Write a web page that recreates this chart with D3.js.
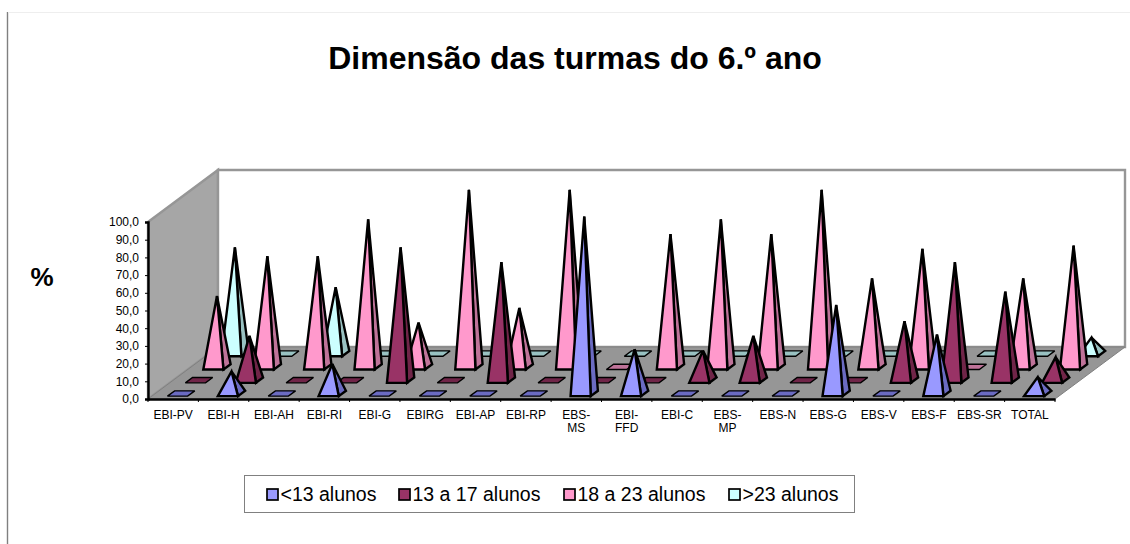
<!DOCTYPE html>
<html><head><meta charset="utf-8">
<script src="https://cdn.jsdelivr.net/npm/d3@7"></script>
<style>html,body{margin:0;padding:0;background:#fff}svg{display:block}text{font-family:"Liberation Sans",Arial,sans-serif}</style>
</head><body><div id="chart"></div>
<script>
const categories=["EBI-PV","EBI-H","EBI-AH","EBI-RI","EBI-G","EBIRG","EBI-AP","EBI-RP","EBS-MS","EBI-FFD","EBI-C","EBS-MP","EBS-N","EBS-G","EBS-V","EBS-F","EBS-SR","TOTAL"];
const axisLabels=["EBI-PV","EBI-H","EBI-AH","EBI-RI","EBI-G","EBIRG","EBI-AP","EBI-RP","EBS- MS","EBI- FFD","EBI-C","EBS- MP","EBS-N","EBS-G","EBS-V","EBS-F","EBS-SR","TOTAL"];
const seriesNames=["<13 alunos","13 a 17 alunos","18 a 23 alunos",">23 alunos"];
const under13=[0,12.5,0,16.7,0,0,0,0,100,25,0,0,0,50,0,33.3,0,9.3];
const from13to17=[0,25,0,0,75,0,66.7,0,0,0,16.7,25,0,0,33.3,66.7,50,13];
const from18to23=[40,62.5,62.5,83.3,25,100,33.3,100,0,75,83.3,75,100,50,66.7,0,50,68.5];
const over23=[60,0,37.5,0,0,0,0,0,0,0,0,0,0,0,0,0,0,9];
const seriesValues=[under13,from13to17,from18to23,over23];
const faceColors=["#9999FF","#993366","#FF99CC","#CCFFFF"];
const sideColors=["#6B6BC2","#702548","#BF7399","#99C2C2"];
const yTicks=d3.range(0,101,10);

const W=1130,H=544;
const svg=d3.select("#chart").append("svg").attr("width",W).attr("height",H);
const plotL=148,plotR=1055,plotB=399,plotT=222,dx=70,dy=-52;
const x=d3.scaleBand().domain(categories).range([plotL,plotR]);
const y=d3.scaleLinear().domain([0,100]).range([plotB,plotT]);
const slot=d3.scaleBand().domain(d3.range(4)).range([-0.022,1.002]).paddingInner(0.6).paddingOuter(0.3);
const P=(px,d,v)=>[px+dx*d,y(v)+dy*d];
const poly=(pts)=>d3.line()(pts)+"Z";

// frame lines of the page
svg.append("line").attr("x1",7.5).attr("x2",7.5).attr("y1",12).attr("y2",544).attr("stroke","#808080").attr("stroke-width",1.4);
svg.append("line").attr("x1",8).attr("x2",1130).attr("y1",12.5).attr("y2",12.5).attr("stroke","#eeeeee");

// walls and floor
const g=svg.append("g");
g.append("path").attr("d",poly([P(plotL,0,100),P(plotL,1,100),P(plotL,1,0),P(plotL,0,0)])).attr("fill","#A6A6A6").attr("stroke","#969696").attr("stroke-width",2.4);
g.append("path").attr("d",poly([P(plotL,1,100),P(plotR,1,100),P(plotR,1,0),P(plotL,1,0)])).attr("fill","#fff").attr("stroke","#969696").attr("stroke-width",2.4);
g.append("path").attr("d",poly([P(plotL,0,0),P(plotL,1,0),P(plotR,1,0),P(plotR,0,0)])).attr("fill","#969696").attr("stroke","#808080").attr("stroke-width",1);

// pyramids: rear series first, left to right
const marks=[];
d3.range(3,-1,-1).forEach(s=>categories.forEach((c,i)=>marks.push({s,c,v:seriesValues[s][i]})));
const markG=svg.append("g").attr("stroke","#000").attr("stroke-linejoin","miter").attr("stroke-miterlimit",3);
const cat=x.bandwidth();
const bw=cat*0.4, off=cat*0.31;
marks.forEach(m=>{
  const x0=x(m.c)+off, x1=x0+bw;
  const d0=slot(m.s), d1=d0+slot.bandwidth();
  const fl=P(x0,d0,0), fr=P(x1,d0,0), br=P(x1,d1,0), bl=P(x0,d1,0);
  if(m.v===0){
    markG.append("path").attr("d",poly([fl,fr,br,bl])).attr("fill",sideColors[m.s]).attr("stroke-width",1.4);
  }else{
    const apex=P((x0+x1)/2,(d0+d1)/2,m.v);
    markG.append("path").attr("d",poly([fr,br,apex])).attr("fill",sideColors[m.s]).attr("stroke-width",2.4);
    markG.append("path").attr("d",poly([fl,fr,apex])).attr("fill",faceColors[m.s]).attr("stroke-width",2.4);
  }
});

// axes
const axY=svg.append("g").attr("transform",`translate(${plotL},0)`).call(d3.axisLeft(y).tickValues(yTicks).tickSize(3).tickFormat(d=>d3.format(".1f")(d).replace(".",",")));
axY.select(".domain").attr("stroke","#000").attr("stroke-width",2.4);
axY.selectAll(".tick text").attr("font-size",12).attr("fill","#000").attr("x",-9).style("font-family",'"Liberation Sans",Arial,sans-serif');
const axX=svg.append("g").attr("transform",`translate(0,${plotB})`).call(d3.axisBottom(x).tickSize(0).tickFormat(""));
axX.select(".domain").attr("stroke","#000").attr("stroke-width",2.4);
axX.selectAll(".edge").data(d3.range(19)).enter().append("line").attr("class","edge")
  .attr("x1",i=>plotL+i*cat).attr("x2",i=>plotL+i*cat).attr("y1",0).attr("y2",3).attr("stroke","#000");
categories.forEach((c,i)=>{
  const t=svg.append("text").attr("text-anchor","middle").attr("font-size",12).attr("fill","#000");
  axisLabels[i].split(" ").forEach((part,k)=>t.append("tspan").attr("x",x(c)+cat/2).attr("y",418.5+k*13).text(part));
});

svg.append("text").attr("x",575).attr("y",69).attr("text-anchor","middle").attr("font-size",32).attr("font-weight","bold").text("Dimensão das turmas do 6.º ano");
svg.append("text").attr("x",42).attr("y",286).attr("text-anchor","middle").attr("font-size",26).attr("font-weight","bold").text("%");

// legend
const lg=svg.append("g");
lg.append("rect").attr("x",244.5).attr("y",475.5).attr("width",610).attr("height",37).attr("fill","#fff").attr("stroke","#808080");
const legendX=[267,399,564,729];
seriesNames.forEach((n,i)=>{
  lg.append("rect").attr("x",legendX[i]).attr("y",489).attr("width",11).attr("height",11).attr("fill",faceColors[i]).attr("stroke","#000").attr("stroke-width",1.7);
  lg.append("text").attr("x",legendX[i]+13.5).attr("y",501).attr("font-size",19.5).attr("fill","#000").text(n);
});
</script></body></html>
